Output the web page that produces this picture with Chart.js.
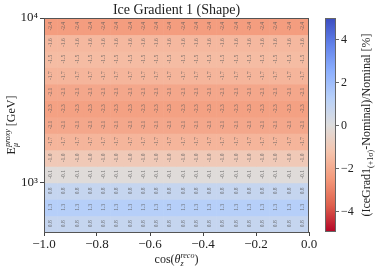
<!DOCTYPE html>
<html>
<head>
<meta charset="utf-8">
<script src="https://cdn.jsdelivr.net/npm/chart.js@4"></script>
<style>
  html, body { margin: 0; padding: 0; background: #fff; }
  #wrap { width: 379px; height: 270px; }
</style>
</head>
<body>
<div id="wrap"><canvas id="iceGrad" width="379" height="270"></canvas></div>
<script>
// bin edges
const cosEdges = [-1.0, -0.95, -0.9, -0.85, -0.8, -0.75, -0.7, -0.65, -0.6, -0.55, -0.5,
  -0.45, -0.4, -0.35, -0.3, -0.25, -0.2, -0.15, -0.1, -0.05, 0.0];
const energyEdges = [501.2, 631.0, 794.3, 1000, 1258.9, 1584.9, 1995.3, 2511.9, 3162.3,
  3981.1, 5011.9, 6309.6, 7943.3, 10000];

// shift in % per energy bin (low -> high), same in every cos bin
const shiftPerEnergyBin = [0.8, 1.3, 0.8, -0.1, -1.0, -1.7, -2.1, -2.3, -2.1, -1.7, -1.5, -1.6, -2.4];

const xTicks = [-1.0, -0.8, -0.6, -0.4, -0.2, 0.0];
const yTicks = [1000, 10000];
const yTickLabels = ["10\u00b3", "10\u2074"];
const cbarTicks = [4, 2, 0, -2, -4];
const cbarMin = -5, cbarMax = 5;

const SERIF = "'Liberation Serif', 'DejaVu Serif', serif";

// matplotlib coolwarm control points
const coolwarm = [
  [0.0, [59, 76, 192]], [0.125, [98, 130, 234]], [0.25, [141, 176, 254]],
  [0.375, [184, 208, 249]], [0.5, [221, 221, 221]], [0.625, [245, 196, 173]],
  [0.75, [244, 154, 123]], [0.875, [222, 96, 77]], [1.0, [180, 4, 38]]
];
function coolwarmR(v) {
  let t = 1 - (v - cbarMin) / (cbarMax - cbarMin);
  t = Math.min(1, Math.max(0, t));
  for (let k = 1; k < coolwarm.length; k++) {
    const [t1, c1] = coolwarm[k];
    const [t0, c0] = coolwarm[k - 1];
    if (t <= t1) {
      const f = (t - t0) / (t1 - t0);
      const c = c0.map((a, n) => Math.round(a + (c1[n] - a) * f));
      return `rgb(${c[0]},${c[1]},${c[2]})`;
    }
  }
  return "rgb(180,4,38)";
}

const cells = [];
shiftPerEnergyBin.forEach((v, i) => {
  for (let j = 0; j < cosEdges.length - 1; j++) {
    cells.push({
      x: (cosEdges[j] + cosEdges[j + 1]) / 2,
      y: Math.sqrt(energyEdges[i] * energyEdges[i + 1]),
      v: v, i: i, j: j
    });
  }
});

// text made of pieces: {t, size, dy, it}; returns x offsets of each piece
function drawRich(ctx, parts, cx, cy, angle) {
  ctx.save();
  ctx.translate(cx, cy);
  ctx.rotate(angle);
  const fontOf = (p) => (p.it ? "italic " : "") + p.size + "px " + SERIF;
  let w = 0;
  parts.forEach(p => { ctx.font = fontOf(p); w += p.noAdvance ? 0 : ctx.measureText(p.t).width; });
  let px = -w / 2;
  ctx.textBaseline = "alphabetic";
  ctx.textAlign = "left";
  parts.forEach(p => {
    ctx.font = fontOf(p);
    ctx.fillText(p.t, px, (p.dy || 0));
    if (!p.noAdvance) px += ctx.measureText(p.t).width;
  });
  ctx.restore();
}

const heatmap = {
  id: "heatmap",
  beforeDatasetsDraw(chart) {
    const { ctx, chartArea: a, scales: { x, y } } = chart;
    ctx.save();
    ctx.beginPath();
    ctx.rect(a.left, a.top, a.right - a.left, a.bottom - a.top);
    ctx.clip();
    cells.forEach(c => {
      const l = x.getPixelForValue(cosEdges[c.j]);
      const r = x.getPixelForValue(cosEdges[c.j + 1]);
      const t = y.getPixelForValue(energyEdges[c.i + 1]);
      const b = y.getPixelForValue(energyEdges[c.i]);
      ctx.fillStyle = coolwarmR(c.v);
      ctx.fillRect(l, t, r - l + 0.6, b - t + 0.6);
    });
    ctx.fillStyle = "rgba(90,90,90,0.85)";
    ctx.font = "5.5px " + SERIF;
    ctx.textAlign = "center";
    ctx.textBaseline = "middle";
    cells.forEach(c => {
      ctx.save();
      ctx.translate(x.getPixelForValue(c.x), y.getPixelForValue(c.y));
      ctx.rotate(-Math.PI / 2);
      ctx.fillText(c.v.toFixed(1), 0, 0);
      ctx.restore();
    });
    ctx.restore();
  },
  afterDraw(chart) {
    const { ctx, chartArea: a } = chart;
    ctx.save();
    ctx.strokeStyle = "#555";
    ctx.lineWidth = 1;
    ctx.strokeRect(a.left + 0.5, a.top + 0.5, a.right - a.left - 1, a.bottom - a.top);
    ctx.fillStyle = "#222";

    // title
    ctx.font = "14px " + SERIF;
    ctx.textAlign = "center";
    ctx.textBaseline = "alphabetic";
    ctx.fillText("Ice Gradient 1 (Shape)", (a.left + a.right) / 2, 14);

    // axis titles (sub drawn under the sup with noAdvance)
    drawRich(ctx, [
      { t: "cos(", size: 12 },
      { t: "\u03b8", size: 12, it: true },
      { t: "z", size: 8, dy: 3, it: true, noAdvance: true },
      { t: "reco", size: 8, dy: -5, it: true },
      { t: ")", size: 12 }
    ], (a.left + a.right) / 2, 263, 0);

    drawRich(ctx, [
      { t: "E", size: 12 },
      { t: "\u03bc", size: 8, dy: 3, it: true, noAdvance: true },
      { t: "proxy", size: 8, dy: -5, it: true },
      { t: " [GeV]", size: 12 }
    ], 15, (a.top + a.bottom) / 2, -Math.PI / 2);

    // colorbar
    const cb = chart.scales.cb;
    const top = cb.getPixelForValue(cbarMax);
    const bottom = cb.getPixelForValue(cbarMin);
    const left = cb.left + 16, width = 11;
    const grad = ctx.createLinearGradient(0, bottom, 0, top);
    for (let k = 0; k <= 40; k++) {
      grad.addColorStop(k / 40, coolwarmR(cbarMin + (cbarMax - cbarMin) * k / 40));
    }
    ctx.fillStyle = grad;
    ctx.fillRect(left, top, width, bottom - top);
    ctx.strokeStyle = "#666";
    ctx.strokeRect(left + 0.5, top + 0.5, width - 1, bottom - top - 1);
    ctx.fillStyle = "#222";
    ctx.font = "12px " + SERIF;
    ctx.textAlign = "left";
    ctx.textBaseline = "middle";
    cbarTicks.forEach(v => {
      const py = Math.round(cb.getPixelForValue(v)) + 0.5;
      ctx.beginPath();
      ctx.moveTo(left + width, py);
      ctx.lineTo(left + width + 3, py);
      ctx.stroke();
      ctx.fillText(v < 0 ? "\u2212" + Math.abs(v) : String(v), left + width + 5, py);
    });
    drawRich(ctx, [
      { t: "(IceGrad1", size: 12 },
      { t: "(+1\u03c3)", size: 8, dy: 3 },
      { t: "-Nominal)/Nominal [%]", size: 12 }
    ], cb.left + 61, (top + bottom) / 2, -Math.PI / 2);
    ctx.restore();
  }
};

const ctx = document.getElementById("iceGrad");

new Chart(ctx, {
  type: "scatter",
  data: {
    datasets: [
      {
        data: cells,
        pointRadius: 0,
        pointHoverRadius: 0,
      },
    ],
  },
  options: {
    responsive: false,
    animation: false,
    events: [],
    layout: {
      padding: { top: 18, left: 0, right: 0, bottom: 0 },
    },
    scales: {
      x: {
        type: "linear",
        min: -1,
        max: 0,
        afterBuildTicks: (s) => { s.ticks = xTicks.map((v) => ({ value: v })); },
        afterFit: (s) => { s.height = 38; },
        ticks: {
          color: "#222",
          font: { family: SERIF, size: 13 },
          padding: 1,
          maxRotation: 0,
          callback: (v) => (v < 0 ? "\u2212" : "") + Math.abs(v).toFixed(1),
        },
        grid: { drawOnChartArea: false, tickLength: 4, color: "#444" },
        border: { display: false },
      },
      y: {
        type: "logarithmic",
        min: 501.2,
        max: 10000,
        afterBuildTicks: (s) => { s.ticks = yTicks.map((v) => ({ value: v })); },
        afterFit: (s) => { s.width = 44; },
        ticks: {
          color: "#222",
          font: { family: SERIF, size: 13 },
          padding: 2,
          callback: (v, i) => yTickLabels[i],
        },
        grid: { drawOnChartArea: false, tickLength: 4, color: "#444" },
        border: { display: false },
      },
      cb: {
        type: "linear",
        axis: "y",
        position: "right",
        min: cbarMin,
        max: cbarMax,
        afterFit: (s) => { s.width = 70; },
        ticks: { display: false },
        grid: { display: false },
        border: { display: false },
      },
    },
    plugins: {
      legend: { display: false },
      tooltip: { enabled: false },
      title: { display: false },
    },
  },
  plugins: [heatmap],
});
</script>
</body>
</html>
